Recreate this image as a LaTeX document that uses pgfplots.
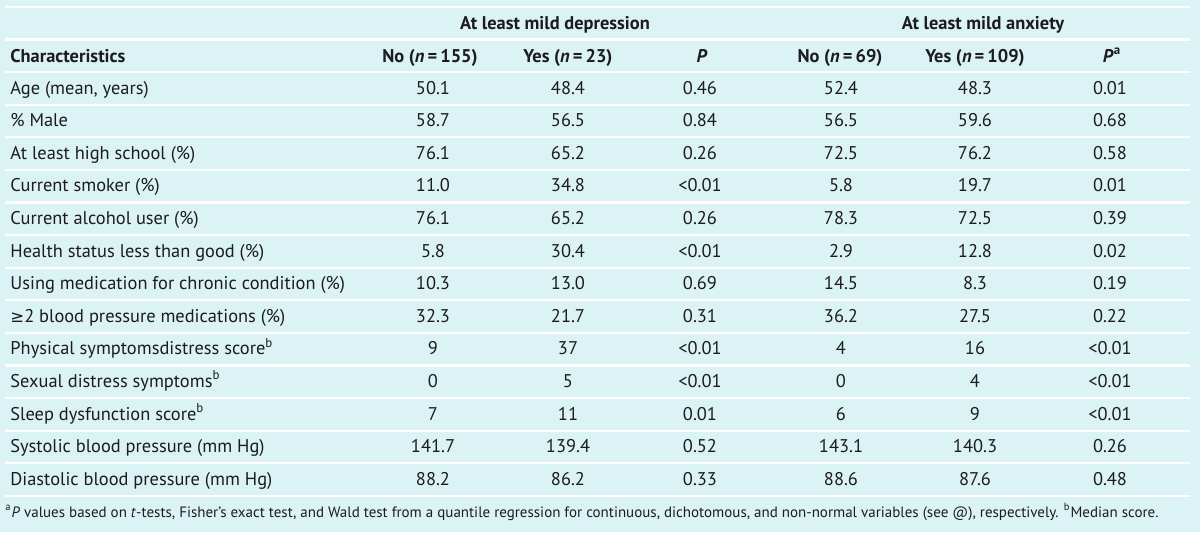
\documentclass[border=0pt]{standalone}
\usepackage{pgfplots}
\pgfplotsset{compat=1.18}
\usepackage{pgfplotstable}
\usepackage{fontspec}
\setmainfont{PT Sans}
\newfontfamily\dv{DejaVu Sans}[Scale=0.9]
\definecolor{bgc}{RGB}{220,243,246}
\definecolor{txt}{RGB}{28,28,28}

% row centres (px from top) and cell texts
\pgfplotstableread[col sep=semicolon]{
y;lab;c1;c2;c3;c4;c5;c6
88;Age (mean, years);50.1;48.4;0.46;52.4;48.3;0.01
120.6;\% Male;58.7;56.5;0.84;56.5;59.6;0.68
153.2;At least high school (\%);76.1;65.2;0.26;72.5;76.2;0.58
185.8;Current smoker (\%);11.0;34.8;<0.01;5.8;19.7;0.01
218.4;Current alcohol user (\%);76.1;65.2;0.26;78.3;72.5;0.39
251;Health status less than good (\%);5.8;30.4;<0.01;2.9;12.8;0.02
283.6;Using medication for chronic condition (\%);10.3;13.0;0.69;14.5;8.3;0.19
316.2;{\dv ≥}2 blood pressure medications (\%);32.3;21.7;0.31;36.2;27.5;0.22
348.8;Physical symptomsdistress score\textsuperscript{b};9;37;<0.01;4;16;<0.01
381.4;Sexual distress symptoms\textsuperscript{b};0;5;<0.01;0;4;<0.01
414;Sleep dysfunction score\textsuperscript{b};7;11;0.01;6;9;<0.01
446.6;Systolic blood pressure (mm Hg);141.7;139.4;0.52;143.1;140.3;0.26
479.2;Diastolic blood pressure (mm Hg);88.2;86.2;0.33;88.6;87.6;0.48
}\rows

\pgfplotstableread[col sep=semicolon]{
y;lab;c1;c2;c3;c4;c5;c6
56;Characteristics;No (\textit{n}\,=\,155);Yes (\textit{n}\,=\,23);\textit{P};No (\textit{n}\,=\,69);Yes (\textit{n}\,=\,109);\textit{P}\textsuperscript{a}
}\heads

\pgfplotstableread[col sep=semicolon]{
x;y;lab
555;23;At least mild depression
983;23;At least mild anxiety
}\groups

\pgfplotstableread[col sep=semicolon]{
x;y;lab
5;512;\textsuperscript{a}\textit{P} values based on \textit{t}-tests, Fisher’s exact test, and Wald test from a quantile regression for continuous, dichotomous, and non-normal variables (see @), respectively. \textsuperscript{b}Median score.
}\foot

% white rules between rows
\pgfplotstableread{
x y
5 7
1190 7
nan nan
5 39.5
1190 39.5
nan nan
5 72
1190 72
nan nan
5 104.6
1190 104.6
nan nan
5 137.2
1190 137.2
nan nan
5 169.8
1190 169.8
nan nan
5 202.4
1190 202.4
nan nan
5 235
1190 235
nan nan
5 267.6
1190 267.6
nan nan
5 300.2
1190 300.2
nan nan
5 332.8
1190 332.8
nan nan
5 365.4
1190 365.4
nan nan
5 398
1190 398
nan nan
5 430.6
1190 430.6
nan nan
5 463.2
1190 463.2
nan nan
5 495.8
1190 495.8
}\rules

\newcommand{\bodyfont}{\fontsize{9.2}{11}\selectfont}
\begin{document}
\begin{tikzpicture}
\begin{axis}[
  scale only axis, width=600pt, height=266pt,
  xmin=0, xmax=1200, ymin=0, ymax=532, y dir=reverse,
  axis line style={draw=none}, xtick=\empty, ytick=\empty,
  axis background/.style={fill=bgc},
  clip=false, unbounded coords=jump,
  every node near coord/.append style={font=\bodyfont, text=txt, inner sep=0pt},
]
\addplot[white, line width=1.1pt] table[x=x, y=y] {\rules};

\addplot[draw=none, mark=none, nodes near coords, point meta=explicit symbolic,
  every node near coord/.append style={anchor=base west}]
  table[x expr=10, y expr=\thisrow{y}+6, meta=lab] {\rows};
\addplot[draw=none, mark=none, nodes near coords, point meta=explicit symbolic,
  every node near coord/.append style={anchor=base}]
  table[x expr=433, y expr=\thisrow{y}+6, meta=c1] {\rows};
\addplot[draw=none, mark=none, nodes near coords, point meta=explicit symbolic,
  every node near coord/.append style={anchor=base}]
  table[x expr=568, y expr=\thisrow{y}+6, meta=c2] {\rows};
\addplot[draw=none, mark=none, nodes near coords, point meta=explicit symbolic,
  every node near coord/.append style={anchor=base}]
  table[x expr=700, y expr=\thisrow{y}+6, meta=c3] {\rows};
\addplot[draw=none, mark=none, nodes near coords, point meta=explicit symbolic,
  every node near coord/.append style={anchor=base}]
  table[x expr=841, y expr=\thisrow{y}+6, meta=c4] {\rows};
\addplot[draw=none, mark=none, nodes near coords, point meta=explicit symbolic,
  every node near coord/.append style={anchor=base}]
  table[x expr=975, y expr=\thisrow{y}+6, meta=c5] {\rows};
\addplot[draw=none, mark=none, nodes near coords, point meta=explicit symbolic,
  every node near coord/.append style={anchor=base}]
  table[x expr=1110, y expr=\thisrow{y}+6, meta=c6] {\rows};

% header row (bold)
\addplot[draw=none, mark=none, nodes near coords, point meta=explicit symbolic,
  every node near coord/.append style={anchor=base west, font=\bodyfont\bfseries}]
  table[x expr=10, y expr=\thisrow{y}+6, meta=lab] {\heads};
\addplot[draw=none, mark=none, nodes near coords, point meta=explicit symbolic,
  every node near coord/.append style={anchor=base, font=\bodyfont\bfseries}]
  table[x expr=430, y expr=\thisrow{y}+6, meta=c1] {\heads};
\addplot[draw=none, mark=none, nodes near coords, point meta=explicit symbolic,
  every node near coord/.append style={anchor=base, font=\bodyfont\bfseries}]
  table[x expr=568, y expr=\thisrow{y}+6, meta=c2] {\heads};
\addplot[draw=none, mark=none, nodes near coords, point meta=explicit symbolic,
  every node near coord/.append style={anchor=base, font=\bodyfont\bfseries}]
  table[x expr=702, y expr=\thisrow{y}+6, meta=c3] {\heads};
\addplot[draw=none, mark=none, nodes near coords, point meta=explicit symbolic,
  every node near coord/.append style={anchor=base, font=\bodyfont\bfseries}]
  table[x expr=840, y expr=\thisrow{y}+6, meta=c4] {\heads};
\addplot[draw=none, mark=none, nodes near coords, point meta=explicit symbolic,
  every node near coord/.append style={anchor=base, font=\bodyfont\bfseries}]
  table[x expr=975, y expr=\thisrow{y}+6, meta=c5] {\heads};
\addplot[draw=none, mark=none, nodes near coords, point meta=explicit symbolic,
  every node near coord/.append style={anchor=base, font=\bodyfont\bfseries}]
  table[x expr=1112, y expr=\thisrow{y}+6, meta=c6] {\heads};

% group headers
\addplot[draw=none, mark=none, nodes near coords, point meta=explicit symbolic,
  every node near coord/.append style={anchor=base, font=\bodyfont\bfseries}]
  table[x=x, y expr=\thisrow{y}+6, meta=lab] {\groups};

% footnote
\addplot[draw=none, mark=none, nodes near coords, point meta=explicit symbolic,
  every node near coord/.append style={anchor=base west, font=\fontsize{7.5}{9}\selectfont}]
  table[x=x, y expr=\thisrow{y}+5, meta=lab] {\foot};
\end{axis}
\end{tikzpicture}
\end{document}
